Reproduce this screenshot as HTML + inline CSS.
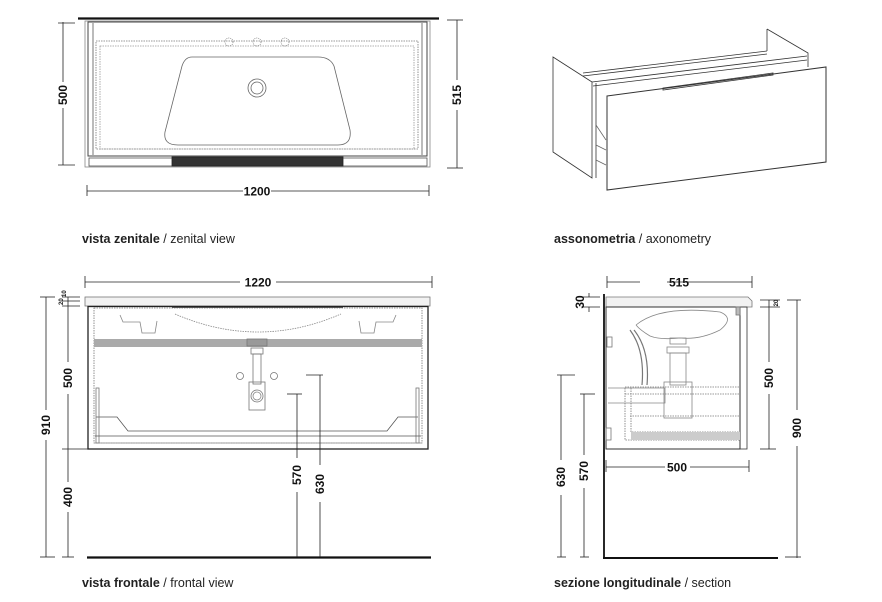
<!DOCTYPE html>
<html><head><meta charset="utf-8"><style>
html,body{margin:0;padding:0;background:#fff;}
svg{display:block;}
.d{font-family:"Liberation Sans",sans-serif;font-weight:bold;font-size:12px;fill:#111;}
.c{font-family:"Liberation Sans",sans-serif;font-size:12.5px;fill:#222;}
</style></head><body>
<svg width="882" height="602" viewBox="0 0 882 602" xmlns="http://www.w3.org/2000/svg">
<g fill="none" stroke="#222" stroke-width="0.8">
<!-- ZENITAL -->
<line x1="78" y1="18.5" x2="439" y2="18.5" stroke="#111" stroke-width="2.2"/>
<rect x="85" y="21" width="345" height="146" stroke="#888"/>
<rect x="88" y="22" width="339" height="134" stroke="#444" stroke-width="1"/>
<line x1="93" y1="23" x2="93" y2="155" stroke="#555"/>
<line x1="422" y1="23" x2="422" y2="155" stroke="#555"/>
<rect x="96" y="41" width="322" height="108" stroke="#777" stroke-dasharray="1.5 1"/>
<rect x="100" y="46" width="314" height="103" stroke="#999" stroke-dasharray="1.5 1"/>
<path d="M192 57 H318 Q330 57 334 66 L350 130 Q352 145 338 145 H178 Q163 145 165 132 L182 66 Q185 57 192 57 Z" stroke="#666"/>
<circle cx="257" cy="88" r="9" stroke="#666"/>
<circle cx="257" cy="88" r="6" stroke="#666"/>
<circle cx="229" cy="42" r="4" stroke="#888" stroke-dasharray="1 1"/>
<circle cx="257" cy="42" r="4" stroke="#888" stroke-dasharray="1 1"/>
<circle cx="285" cy="42" r="4" stroke="#888" stroke-dasharray="1 1"/>
<rect x="89" y="158" width="338" height="8" stroke="#555"/>
<rect x="172" y="157" width="171" height="9" fill="#333" stroke="#222"/>
<!-- dims zenital -->
<line x1="63" y1="22" x2="63" y2="82"/><line x1="63" y1="108" x2="63" y2="165"/>
<line x1="58" y1="23" x2="75" y2="23"/><line x1="58" y1="165" x2="75" y2="165"/>
<line x1="457" y1="20" x2="457" y2="80"/><line x1="457" y1="110" x2="457" y2="168"/>
<line x1="447" y1="20" x2="463" y2="20"/><line x1="447" y1="168" x2="463" y2="168"/>
<line x1="87" y1="191" x2="243" y2="191"/><line x1="271" y1="191" x2="429" y2="191"/>
<line x1="87" y1="185" x2="87" y2="196"/><line x1="429" y1="185" x2="429" y2="196"/>

<!-- FRONTAL -->
<line x1="85" y1="282" x2="240" y2="282"/><line x1="276" y1="282" x2="432" y2="282"/>
<line x1="85" y1="276" x2="85" y2="288"/><line x1="432" y1="276" x2="432" y2="288"/>
<rect x="85" y="297" width="345" height="9" fill="#f2f2f2" stroke="#777"/>
<line x1="172" y1="307" x2="343" y2="307" stroke="#222" stroke-width="1.6"/>
<rect x="88" y="306.5" width="340" height="142.5" stroke="#222" stroke-width="1.3"/>
<rect x="94" y="308" width="328" height="135" stroke="#777" stroke-dasharray="1.5 1"/>
<path d="M175 314 Q258 350 341 314" stroke="#888" stroke-dasharray="1.5 1"/>
<path d="M120 315 L123 322 H140 L142 333 H155 L157 321" stroke="#888"/>
<path d="M396 315 L393 322 H376 L374 333 H361 L359 321" stroke="#888"/>
<rect x="94" y="339" width="328" height="8" fill="#aaa" stroke="none"/>
<rect x="247" y="339" width="20" height="7" fill="#999" stroke="#777"/>
<rect x="251" y="348" width="12" height="6" stroke="#777"/>
<rect x="253" y="354" width="8" height="30" stroke="#777"/>
<rect x="249" y="382" width="16" height="28" stroke="#777"/>
<circle cx="257" cy="396" r="6" stroke="#777"/><circle cx="257" cy="396" r="4" stroke="#888"/>
<circle cx="240" cy="376" r="3.5" stroke="#777"/><circle cx="274" cy="376" r="3.5" stroke="#777"/>
<path d="M96 417 H117 L128 431 H387 L398 417 H418" stroke="#555"/>
<rect x="96" y="388" width="3" height="55" stroke="#777"/>
<rect x="416" y="388" width="3" height="55" stroke="#777"/>
<line x1="95" y1="436" x2="421" y2="436" stroke="#555"/>
<line x1="95" y1="443" x2="421" y2="443" stroke="#888" stroke-dasharray="1.5 1"/>
<line x1="87" y1="557.5" x2="431" y2="557.5" stroke="#111" stroke-width="2.2"/>
<!-- frontal dims -->
<line x1="46" y1="297" x2="46" y2="410"/><line x1="46" y1="440" x2="46" y2="557"/>
<line x1="40" y1="297" x2="55" y2="297"/><line x1="40" y1="557" x2="55" y2="557"/>
<line x1="68" y1="297" x2="68" y2="362"/><line x1="68" y1="394" x2="68" y2="482"/><line x1="68" y1="512" x2="68" y2="557"/>
<line x1="62" y1="297" x2="80" y2="297"/><line x1="62" y1="301" x2="80" y2="301"/><line x1="62" y1="306" x2="80" y2="306"/>
<line x1="62" y1="449" x2="88" y2="449"/><line x1="62" y1="557" x2="74" y2="557"/>
<line x1="297" y1="394" x2="297" y2="458"/><line x1="297" y1="492" x2="297" y2="557"/><line x1="287" y1="394" x2="302" y2="394"/>
<line x1="320" y1="375" x2="320" y2="465"/><line x1="320" y1="502" x2="320" y2="557"/><line x1="306" y1="375" x2="323" y2="375"/>

<!-- AXONOMETRY -->
<path d="M553 57 L592 82 L592 178 L553 152 Z" stroke="#333"/>
<path d="M583 73 L767 51" stroke="#333"/>
<path d="M583 76 L767 54" stroke="#333"/>
<path d="M592 82 L807 56" stroke="#333"/>
<path d="M593 86 L807 60" stroke="#333"/>
<path d="M767 29 L808 53 L808 67" stroke="#333"/>
<path d="M767 29 L767 51" stroke="#333"/>
<path d="M596 83 L596 178" stroke="#333"/>
<path d="M607 96 L826 67 L826 162 L607 190 Z" stroke="#333" stroke-width="1"/>
<path d="M663 88 L773 73 L773 75 L663 90 Z" stroke="#333"/>
<path d="M596 125 L606 140 M596 145 L606 150 M596 160 L606 165" stroke="#666"/>

<!-- SECTION -->
<line x1="607" y1="282" x2="640" y2="282"/><line x1="667" y1="282" x2="752" y2="282"/>
<line x1="607" y1="276" x2="607" y2="288"/><line x1="752" y1="276" x2="752" y2="288"/>
<line x1="604" y1="294" x2="604" y2="558" stroke="#111" stroke-width="1.8"/>
<line x1="603" y1="558" x2="778" y2="558" stroke="#111" stroke-width="2"/>
<path d="M606 297 H748 L752 301 V307 H606 Z" fill="#f2f2f2" stroke="#777"/>
<rect x="606" y="307" width="134" height="142" stroke="#333" stroke-width="1"/>
<rect x="740" y="307" width="7" height="142" stroke="#333"/>
<path d="M636 325 Q660 305 720 312 Q735 318 720 330 Q700 340 680 338 Q660 340 650 336 Q640 330 636 325" stroke="#888"/>
<rect x="670" y="338" width="16" height="6" stroke="#888"/>
<rect x="667" y="347" width="22" height="6" stroke="#888"/>
<rect x="670" y="353" width="16" height="32" stroke="#888"/>
<rect x="664" y="382" width="28" height="36" stroke="#888"/>
<path d="M608 388 H665 V403 H608" stroke="#888"/>
<path d="M630 330 Q645 350 642 385 M634 330 Q650 350 647 385" stroke="#777" stroke-width="1.2"/>
<path d="M625 388 V440 H740 M631 388 V432 H740 M630 416 H740 M625 387 H740 M625 394 H740" stroke="#777" stroke-dasharray="1.5 1"/>
<rect x="631" y="432" width="109" height="8" fill="#ccc" stroke="none"/>
<rect x="607" y="337" width="5" height="10" stroke="#777"/>
<rect x="606" y="428" width="5" height="12" stroke="#777"/>
<rect x="736" y="307" width="4" height="8" fill="#bbb" stroke="#777"/>
<!-- section dims -->
<line x1="589" y1="293" x2="589" y2="297"/><line x1="589" y1="307" x2="589" y2="312"/>
<line x1="583" y1="297" x2="600" y2="297"/><line x1="583" y1="307" x2="600" y2="307"/>
<line x1="769" y1="300" x2="769" y2="362"/><line x1="769" y1="394" x2="769" y2="449"/>
<line x1="760" y1="300" x2="780" y2="300"/><line x1="760" y1="307" x2="780" y2="307"/><line x1="760" y1="449" x2="776" y2="449"/>
<line x1="797" y1="300" x2="797" y2="410"/><line x1="797" y1="446" x2="797" y2="558"/>
<line x1="787" y1="300" x2="801" y2="300"/><line x1="785" y1="557" x2="801" y2="557"/>
<line x1="606" y1="467" x2="665" y2="467"/><line x1="690" y1="467" x2="749" y2="467"/>
<line x1="606" y1="460" x2="606" y2="472"/><line x1="749" y1="460" x2="749" y2="472"/>
<line x1="561" y1="375" x2="561" y2="460"/><line x1="561" y1="495" x2="561" y2="557"/>
<line x1="557" y1="375" x2="575" y2="375"/><line x1="557" y1="557" x2="566" y2="557"/>
<line x1="584" y1="394" x2="584" y2="455"/><line x1="584" y1="488" x2="584" y2="557"/>
<line x1="580" y1="394" x2="595" y2="394"/><line x1="580" y1="557" x2="589" y2="557"/>
</g>

<g class="d">
<text x="257" y="195.5" text-anchor="middle">1200</text>
<text transform="translate(67,95) rotate(-90)" text-anchor="middle">500</text>
<text transform="translate(461,95) rotate(-90)" text-anchor="middle">515</text>
<text x="258" y="286.5" text-anchor="middle">1220</text>
<text transform="translate(50,425) rotate(-90)" text-anchor="middle">910</text>
<text transform="translate(72,378) rotate(-90)" text-anchor="middle">500</text>
<text transform="translate(72,497) rotate(-90)" text-anchor="middle">400</text>
<text transform="translate(301,475) rotate(-90)" text-anchor="middle">570</text>
<text transform="translate(324,484) rotate(-90)" text-anchor="middle">630</text>
<text transform="translate(63,305) rotate(-90)" style="font-size:6px">20</text>
<text transform="translate(66,297) rotate(-90)" style="font-size:6px">10</text>
<text x="679" y="286.5" text-anchor="middle">515</text>
<text transform="translate(584,302) rotate(-90)" text-anchor="middle">30</text>
<text transform="translate(778,303) rotate(-90)" text-anchor="middle" style="font-size:6px">20</text>
<text transform="translate(773,378) rotate(-90)" text-anchor="middle">500</text>
<text transform="translate(801,428) rotate(-90)" text-anchor="middle">900</text>
<text x="677" y="471.5" text-anchor="middle">500</text>
<text transform="translate(565,477) rotate(-90)" text-anchor="middle">630</text>
<text transform="translate(588,471) rotate(-90)" text-anchor="middle">570</text>
</g>

<g class="c">
<text x="82" y="243"><tspan font-weight="bold">vista zenitale</tspan> / zenital view</text>
<text x="554" y="243"><tspan font-weight="bold">assonometria</tspan> / axonometry</text>
<text x="82" y="587"><tspan font-weight="bold">vista frontale</tspan> / frontal view</text>
<text x="554" y="587"><tspan font-weight="bold">sezione longitudinale</tspan> / section</text>
</g>
</svg>
</body></html>
